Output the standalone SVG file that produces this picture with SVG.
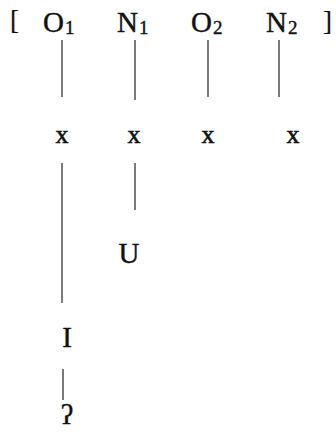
<svg xmlns="http://www.w3.org/2000/svg" width="336" height="432" viewBox="0 0 336 432">
<style>
text{font-family:"Liberation Serif","DejaVu Serif",serif;fill:#111;stroke:#111;stroke-width:0.4;}
.big{font-size:29px;}
.sub{font-size:19px;}
.x{font-size:26px;text-anchor:middle;stroke-width:0.6;}
.mid{text-anchor:middle;}
.br{font-size:27px;stroke-width:0.2;}
line{stroke:#222;stroke-width:1.2;}
</style>
<rect width="336" height="432" fill="#fff"/>
<g id="brackets">
<text class="br" x="10" y="29">[</text>
<text class="br" x="323" y="30">]</text>
</g>
<g id="O1"><text class="big" x="43" y="32">O<tspan class="sub" dx="1" dy="2">1</tspan></text></g>
<g id="N1"><text class="big" x="117" y="32">N<tspan class="sub" dx="1" dy="2">1</tspan></text></g>
<g id="O2"><text class="big" x="191" y="32">O<tspan class="sub" dx="1" dy="2">2</tspan></text></g>
<g id="N2"><text class="big" x="266" y="32">N<tspan class="sub" dx="1" dy="2">2</tspan></text></g>
<g id="x1"><text class="x" x="62" y="143">x</text></g>
<g id="x2"><text class="x" x="134" y="143">x</text></g>
<g id="x3"><text class="x" x="208" y="143">x</text></g>
<g id="x4"><text class="x" x="293" y="143">x</text></g>
<g id="U"><text class="big mid" x="129" y="263">U</text></g>
<g id="I"><text class="big mid" x="67" y="347">I</text></g>
<g id="glottal"><text class="mid" x="67" y="424" font-size="28">ʔ</text></g>
<g id="connectors">
<line x1="62" y1="40" x2="62" y2="97"/>
<line x1="135" y1="40" x2="135" y2="100"/>
<line x1="208" y1="40" x2="208" y2="97"/>
<line x1="279" y1="40" x2="279" y2="97"/>
<line x1="62" y1="163" x2="62" y2="303"/>
<line x1="135" y1="163" x2="135" y2="210"/>
<line x1="63" y1="369" x2="63" y2="400"/>
</g>
</svg>
